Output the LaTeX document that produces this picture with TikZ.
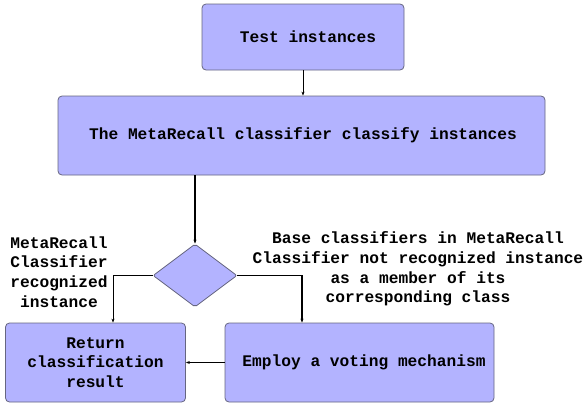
\documentclass[tikz,border=0pt]{standalone}
\usepackage{fontspec}
\setmonofont{Liberation Mono}
\usetikzlibrary{shapes.geometric,arrows.meta}
\definecolor{boxfill}{HTML}{B3B3FF}
\definecolor{boxline}{HTML}{666680}
\tikzset{
  procbox/.style={draw=boxline, line width=0.8pt, fill=boxfill, rounded corners=4pt, inner sep=0pt, align=center, font=\ttfamily\bfseries\fontsize{16.2}{19.6}\selectfont},
  decbox/.style={draw=boxline, line width=0.8pt, fill=boxfill, diamond, aspect=1.333, minimum width=84pt, minimum height=63pt, inner sep=0pt, rounded corners=2pt},
  lbl/.style={align=center, font=\ttfamily\bfseries\fontsize{16.2}{19.6}\selectfont, inner sep=0pt},
  conn/.style={draw=black, line width=0.8pt, -{Stealth[length=4pt,width=3pt]}},
  thickconn/.style={draw=black, line width=1.8pt, -{Stealth[length=4pt,width=3pt]}},
}
\begin{document}
\begin{tikzpicture}[x=1pt,y=-1pt]
\useasboundingbox (0,0) rectangle (584,407);
\node[procbox, minimum width=202pt, minimum height=66pt] (test) at (303,37) {\hspace*{10pt}Test instances};
\node[procbox, minimum width=487pt, minimum height=79pt] (meta) at (301.5,135.5) {\hspace*{3pt}The MetaRecall classifier classify instances};
\node[decbox] (dec) at (195,275.5) {};
\node[procbox, minimum width=180pt, minimum height=79pt] (ret) at (95.5,362.5) {Return\\classification\\result};
\node[procbox, minimum width=269pt, minimum height=79pt] (emp) at (359.5,362.5) {\hspace*{9pt}Employ a voting mechanism};
\node[lbl] (lleft) at (59,272) {MetaRecall\\Classifier\\recognized\\instance};
\node[lbl] (lright) at (418,269) {Base classifiers in MetaRecall\\Classifier not recognized instance\\as a member of its\\corresponding class};
\coordinate (lcorner) at (113,275.5);
\coordinate (rcorner) at (302,275.5);
\draw[conn] (test.south) -- (meta.north -| test.south);
\draw[thickconn] (meta.south -| dec.north) -- (dec.north);
\draw[conn] (dec.west) -- (lcorner) -- (lcorner |- ret.north);
\draw[thickconn] (dec.east) -- (rcorner) -- (rcorner |- emp.north);
\draw[conn] (emp.west) -- (ret.east);
\end{tikzpicture}
\end{document}
